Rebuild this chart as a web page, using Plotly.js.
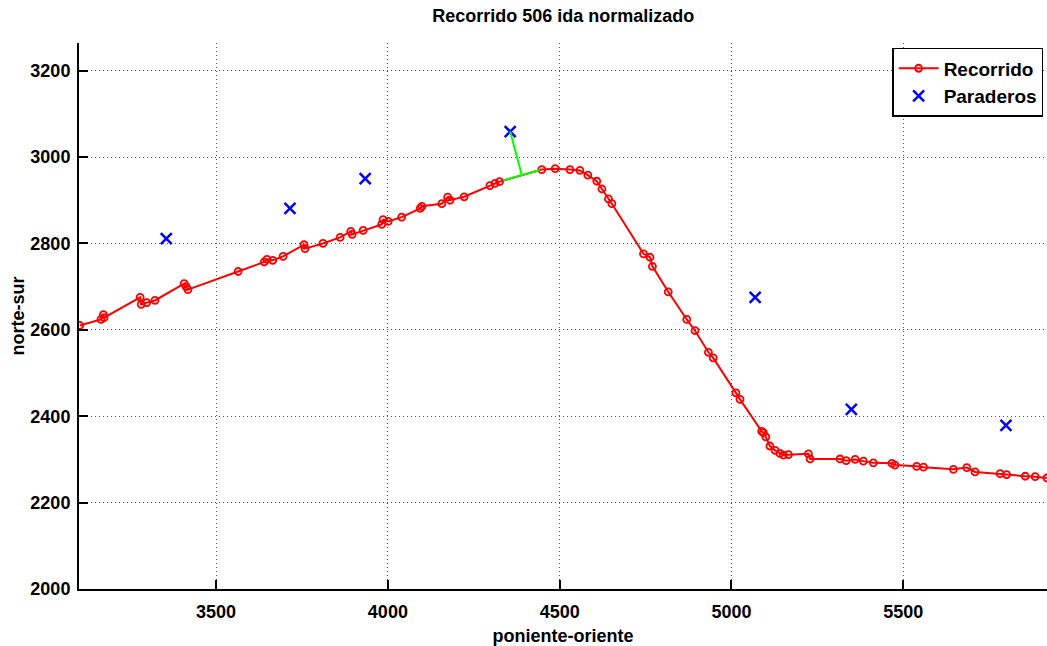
<!DOCTYPE html>
<html>
<head>
<meta charset="utf-8">
<script src="https://cdn.plot.ly/plotly-3.0.1.min.js"></script>
<style>
  html, body { margin: 0; padding: 0; background: #fff; }
  #chart { width: 1047px; height: 646px; }
</style>
</head>
<body>
<div id="chart"></div>
<script>
// Route 506 (outbound), normalized coordinates
const routeX = [3103, 3165, 3172, 3174, 3279, 3282, 3298, 3322, 3407, 3413,
                3418, 3564, 3640, 3648, 3665, 3695, 3756, 3759, 3811, 3861,
                3892, 3896, 3928, 3982, 3986, 4001, 4040, 4094, 4099, 4157,
                4174, 4181, 4222, 4297, 4312, 4325, 4448, 4487, 4530, 4559,
                4582, 4608, 4623, 4642, 4652, 4744, 4763, 4770, 4816, 4870,
                4894, 4933, 4947, 5013, 5025, 5088, 5093, 5100, 5112, 5127,
                5141, 5151, 5166, 5224, 5229, 5316, 5334, 5360, 5384, 5413,
                5467, 5476, 5539, 5559, 5646, 5685, 5709, 5782, 5801, 5855,
                5884, 5918];
const routeY = [2610, 2624, 2635, 2628, 2675, 2659, 2663, 2668, 2707, 2700,
                2693, 2735, 2757, 2763, 2761, 2770, 2797, 2788, 2800, 2814,
                2828, 2821, 2830, 2844, 2855, 2851, 2861, 2881, 2886, 2892,
                2907, 2900, 2908, 2934, 2939, 2943, 2971, 2973, 2971, 2969,
                2958, 2944, 2926, 2903, 2892, 2776, 2768, 2747, 2688, 2624,
                2598, 2548, 2535, 2454, 2439, 2365, 2362, 2352, 2331, 2321,
                2314, 2310, 2311, 2313, 2301, 2301, 2297, 2300, 2296, 2292,
                2291, 2287, 2284, 2282, 2277, 2281, 2271, 2267, 2265, 2261,
                2260, 2257];

// Bus stops
const stopX = [3355, 3715, 3934, 4356, 5069, 5349, 5799];
const stopY = [2811, 2881, 2950, 3059, 2675, 2416, 2379];

// Projection of the 4th stop onto the route, and the route segment it falls on
const projX = [4356, 4390];
const projY = [3059, 2958];
const segX = [4336, 4443];
const segY = [2946, 2970];

const boldFont = {family: 'Liberation Sans, Arial, sans-serif', size: 18, color: '#000', weight: 'bold'};

const traces = [
  {
    x: routeX, y: routeY, type: 'scatter', mode: 'lines+markers', name: 'Recorrido',
    line: {color: '#ff0000', width: 2},
    marker: {symbol: 'circle-open', size: 7, color: '#ff0000', line: {width: 1.8, color: '#ff0000'}}
  },
  {
    x: stopX, y: stopY, type: 'scatter', mode: 'markers', name: 'Paraderos',
    marker: {symbol: 'x-thin-open', size: 11, color: '#0000ff', line: {width: 2.5, color: '#0000ff'}}
  },
  {
    x: segX, y: segY, type: 'scatter', mode: 'lines', showlegend: false, hoverinfo: 'skip',
    line: {color: '#00ff00', width: 2}
  },
  {
    x: projX, y: projY, type: 'scatter', mode: 'lines', showlegend: false, hoverinfo: 'skip',
    line: {color: '#00ff00', width: 2}
  }
];

const axisCommon = {
  showline: true, linecolor: '#000', linewidth: 2, mirror: false,
  ticks: 'inside', ticklen: 9, tickwidth: 2, tickcolor: '#000',
  showgrid: true, gridcolor: '#555', gridwidth: 1, griddash: '1px,3px',
  zeroline: false, tickfont: boldFont
};

const layout = {
  width: 1047, height: 646,
  margin: {l: 79, r: 0, t: 43, b: 57, pad: 0},
  paper_bgcolor: '#fff', plot_bgcolor: '#fff',
  title: {text: 'Recorrido 506 ida normalizado', x: 0.538, xanchor: 'center', y: 0.975, yanchor: 'middle',
          font: {family: 'Liberation Sans, Arial, sans-serif', size: 18, color: '#000', weight: 'bold'}},
  xaxis: Object.assign({}, axisCommon, {
    range: [3101, 5918.5], tickvals: [3500, 4000, 4500, 5000, 5500],
    ticklabelstandoff: 5,
    title: {text: 'poniente-oriente', font: boldFont, standoff: 9}
  }),
  yaxis: Object.assign({}, axisCommon, {
    range: [2000, 3264], tickvals: [2000, 2200, 2400, 2600, 2800, 3000, 3200],
    ticklabelstandoff: 3,
    title: {text: 'norte-sur', font: boldFont, standoff: 1}
  }),
  legend: {
    x: 0.996, xanchor: 'right', y: 0.991, yanchor: 'top',
    bgcolor: '#fff', bordercolor: '#000', borderwidth: 1.5,
    font: {family: 'Liberation Sans, Arial, sans-serif', size: 19, color: '#000', weight: 'bold'},
    itemwidth: 40, tracegroupgap: 4
  },
  showlegend: true
};

Plotly.newPlot('chart', traces, layout, {displayModeBar: false, staticPlot: true});
</script>
</body>
</html>
